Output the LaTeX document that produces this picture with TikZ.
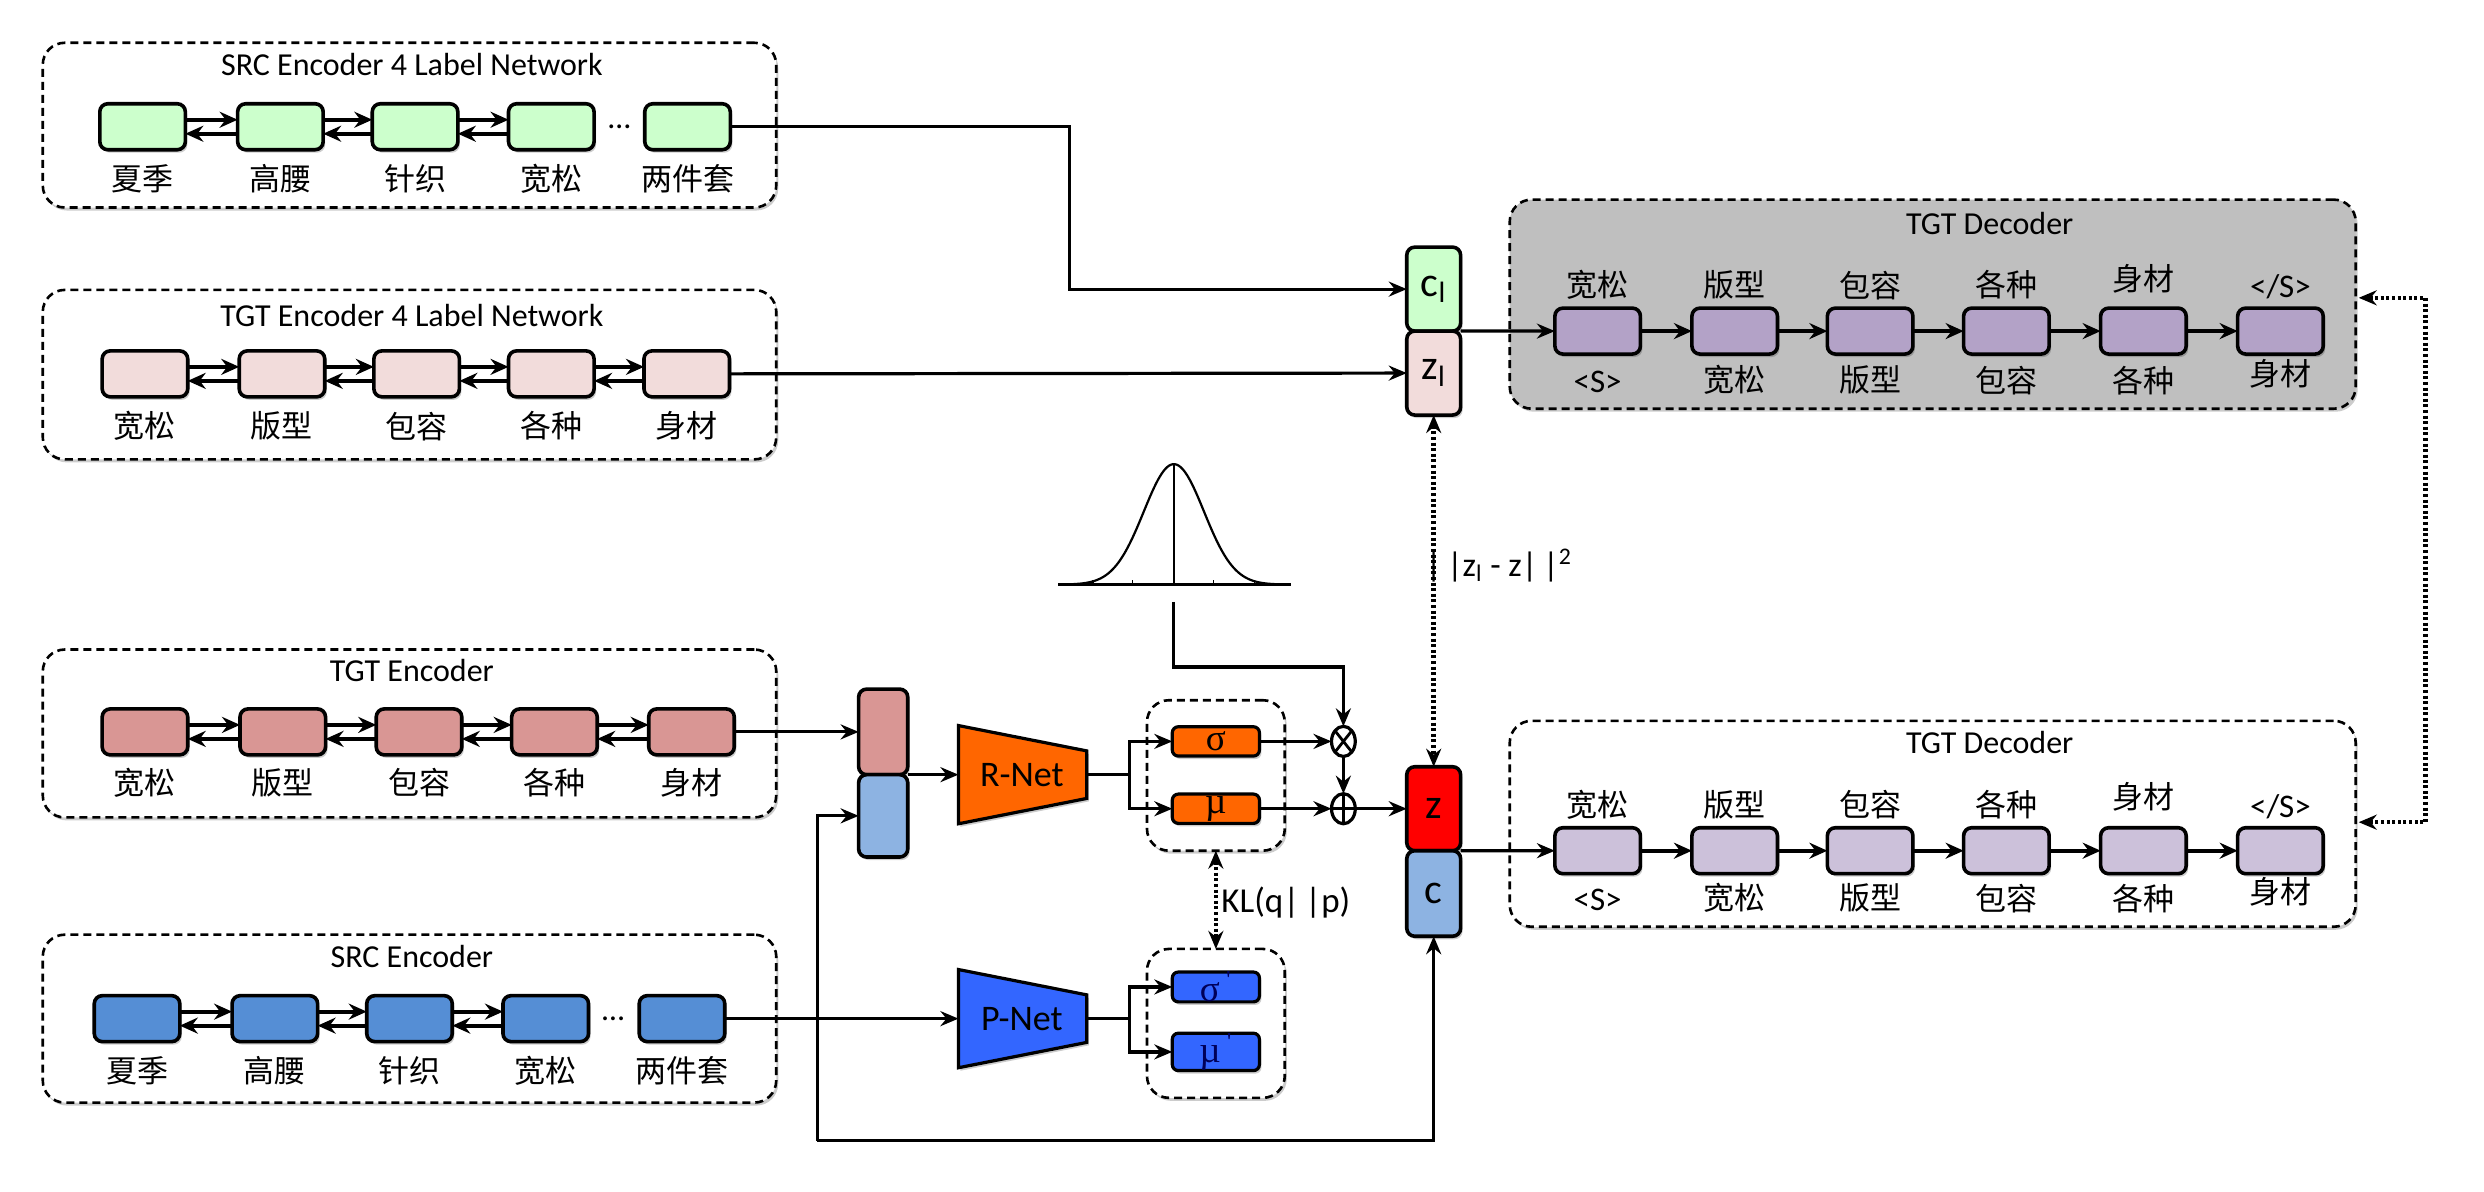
\documentclass[tikz,border=0pt]{standalone}
\usepackage{fontspec}
\setmainfont{Carlito}
\newfontfamily\cjk{Noto Sans CJK SC}
\newfontfamily\grk{Liberation Serif}
\usetikzlibrary{arrows.meta,shapes.geometric,shadows,calc}
\newcommand\pxu{0.7921pt}
\newcommand\eosS{</S>}
\definecolor{cgreen}{HTML}{CCFFCC}
\definecolor{cpink}{HTML}{F2DCDB}
\definecolor{cred}{HTML}{D99694}
\definecolor{cblue}{HTML}{558ED5}
\definecolor{clblue}{HTML}{8DB3E2}
\definecolor{cpurple}{HTML}{B3A2C7}
\definecolor{clpurple}{HTML}{CCC1DA}
\definecolor{corange}{HTML}{FF6600}
\definecolor{cpblue}{HTML}{3366FF}
\definecolor{cgray}{HTML}{BFBFBF}
\definecolor{zred}{HTML}{FF0000}
\tikzset{
  every node/.style={inner sep=0pt, outer sep=0pt},
  shad/.style={drop shadow={shadow xshift=1pt, shadow yshift=-1.5pt, opacity=0.2, fill=black}},
  cell/.style={draw, line width=1.8pt, rounded corners=4pt, minimum width=54*\pxu, minimum height=29*\pxu, shad},
  tall/.style={draw, line width=1.8pt, rounded corners=4pt, minimum width=34*\pxu, minimum height=53*\pxu, shad, font=\fontsize{21}{22}\selectfont},
  smallbox/.style={draw, line width=1.6pt, rounded corners=3pt, minimum width=55*\pxu, minimum height=18.5*\pxu, shad, font=\grk\fontsize{18.5}{19}\selectfont},
  group/.style={draw, line width=1.3pt, dash pattern=on 4pt off 2.5pt, rounded corners=11pt, fill=white, shad},
  title/.style={font=\fontsize{16}{17}\selectfont},
  lab/.style={font=\cjk\fontsize{15.5}{16}\selectfont},
  declab/.style={font=\fontsize{16.5}{17}\selectfont},
  arr/.style={-{Stealth[length=9pt,width=7.5pt,inset=3pt]}, line width=1.6pt},
  charr/.style={-{Stealth[length=9pt,width=8pt,inset=3pt]}, line width=2pt},
  dotarr/.style={{Stealth[length=9pt,width=7.5pt,inset=3pt]}-{Stealth[length=9pt,width=7.5pt,inset=3pt]}, line width=2.3pt, dash pattern=on 1.5pt off 1.3pt},
  opnode/.style={ellipse, draw, line width=1.6pt, minimum width=15*\pxu, minimum height=19*\pxu, fill=white},
  netlab/.style={font=\fontsize{18}{19}\selectfont}
}
\begin{document}
\begin{tikzpicture}[x=\pxu, y=-\pxu]
\useasboundingbox (0,0) rectangle (1568,752);

% ---------- group boxes ----------
\node[group, minimum width=463*\pxu, minimum height=104*\pxu] (gA) at (258.5,79) {};
\node[group, minimum width=463*\pxu, minimum height=107*\pxu] (gB) at (258.5,236.5) {};
\node[group, minimum width=463*\pxu, minimum height=106*\pxu] (gE) at (258.5,463) {};
\node[group, minimum width=463*\pxu, minimum height=106*\pxu] (gS) at (258.5,643) {};
\node[group, fill=cgray, minimum width=534*\pxu, minimum height=132*\pxu] (gTD) at (1220,192) {};
\node[group, minimum width=534*\pxu, minimum height=130*\pxu] (gBD) at (1220,520) {};
\node[group, minimum width=87*\pxu, minimum height=95*\pxu] (gR) at (767.5,489.5) {};
\node[group, minimum width=87*\pxu, minimum height=94*\pxu] (gP) at (767.5,646) {};

% ---------- titles ----------
\node[title] (tA) at (260,41) {SRC Encoder 4 Label Network};
\node[title] (tB) at (260,199) {TGT Encoder 4 Label Network};
\node[title] (tE) at (260,423) {TGT Encoder};
\node[title] (tS) at (260,604) {SRC Encoder};
\node[title] (tTD) at (1256,141) {TGT Decoder};
\node[title] (tBD) at (1256,469) {TGT Decoder};

% ---------- SRC encoder 4 label ----------
\foreach \i/\x/\t in {1/90/夏季,2/177/高腰,3/262/针织,4/348/宽松,5/434/两件套}{
  \node[cell, fill=cgreen] (a\i) at (\x,80) {};
  \node[lab] (la\i) at (\x,113) {\t};
}
\node[title] (dotsA) at (391,80) {…};
\foreach \i/\j in {1/2,2/3,3/4}{
  \draw[charr] ([yshift=3.5pt]a\i.east) -- ([yshift=3.5pt]a\j.west);
  \draw[charr] ([yshift=-3.5pt]a\j.west) -- ([yshift=-3.5pt]a\i.east);
}

% ---------- TGT encoder 4 label ----------
\foreach \i/\x/\t in {1/91.5/宽松,2/178/版型,3/263/包容,4/348/各种,5/433.5/身材}{
  \node[cell, fill=cpink] (b\i) at (\x,236) {};
  \node[lab] (lb\i) at (\x,269) {\t};
}
\foreach \i/\j in {1/2,2/3,3/4,4/5}{
  \draw[charr] ([yshift=3.5pt]b\i.east) -- ([yshift=3.5pt]b\j.west);
  \draw[charr] ([yshift=-3.5pt]b\j.west) -- ([yshift=-3.5pt]b\i.east);
}

% ---------- TGT encoder ----------
\foreach \i/\x/\t in {1/91.5/宽松,2/178.5/版型,3/264.5/包容,4/350/各种,5/436.5/身材}{
  \node[cell, fill=cred] (e\i) at (\x,462) {};
  \node[lab] (le\i) at (\x,494) {\t};
}
\foreach \i/\j in {1/2,2/3,3/4,4/5}{
  \draw[charr] ([yshift=3.5pt]e\i.east) -- ([yshift=3.5pt]e\j.west);
  \draw[charr] ([yshift=-3.5pt]e\j.west) -- ([yshift=-3.5pt]e\i.east);
}

% ---------- SRC encoder ----------
\foreach \i/\x/\t in {1/86.5/夏季,2/173.5/高腰,3/258.5/针织,4/344.5/宽松,5/430.5/两件套}{
  \node[cell, fill=cblue] (s\i) at (\x,643) {};
  \node[lab] (ls\i) at (\x,676) {\t};
}
\node[title] (dotsS) at (387,643) {…};
\foreach \i/\j in {1/2,2/3,3/4}{
  \draw[charr] ([yshift=3.5pt]s\i.east) -- ([yshift=3.5pt]s\j.west);
  \draw[charr] ([yshift=-3.5pt]s\j.west) -- ([yshift=-3.5pt]s\i.east);
}

% ---------- decoders ----------
\foreach \i/\x/\tp in {1/1008.5/宽松,2/1095/版型,3/1180.5/包容,4/1266.5/各种}{
  \node[cell, fill=cpurple] (d\i) at (\x,209) {};
  \node[lab] (dt\i) at (\x,180) {\tp};
  \node[cell, fill=clpurple] (f\i) at (\x,537) {};
  \node[lab] (ft\i) at (\x,508) {\tp};
}
\node[declab] (db1) at (1008.5,241) {<S>};
\node[declab] (fb1) at (1008.5,568) {<S>};
\foreach \i/\x/\bt in {2/1095/宽松,3/1180.5/版型,4/1266.5/包容}{
  \node[lab] (db\i) at (\x,240) {\bt};
  \node[lab] (fb\i) at (\x,567) {\bt};
}
\node[cell, fill=cpurple] (d5) at (1353,209) {};
\node[lab] (dt5) at (1353,176) {身材};
\node[lab] (db5) at (1353,240) {各种};
\node[cell, fill=cpurple] (d6) at (1439.5,209) {};
\node[declab] (dt6) at (1439.5,181) {\eosS};
\node[lab] (db6) at (1439.5,236) {身材};
\node[cell, fill=clpurple] (f5) at (1353,537) {};
\node[lab] (ft5) at (1353,503) {身材};
\node[lab] (fb5) at (1353,567) {各种};
\node[cell, fill=clpurple] (f6) at (1439.5,537) {};
\node[declab] (ft6) at (1439.5,509) {\eosS};
\node[lab] (fb6) at (1439.5,563) {身材};
\foreach \i/\j in {1/2,2/3,3/4,4/5,5/6}{
  \draw[charr] (d\i.east) -- (d\j.west);
  \draw[charr] (f\i.east) -- (f\j.west);
}

% ---------- latent label boxes ----------
\node[tall, fill=cgreen] (cl) at (905,182.5) {c\textsubscript{l}};
\node[tall, fill=cpink] (zl) at (905,235.5) {z\textsubscript{l}};
\node[tall, fill=zred] (z) at (905,510.5) {z};
\node[tall, fill=clblue, minimum height=54*\pxu] (c) at (905,564) {c};
\node[tall, fill=cred, minimum width=31*\pxu, minimum height=54*\pxu] (cc1) at (557.5,462) {};
\node[tall, fill=clblue, minimum width=31*\pxu, minimum height=52*\pxu] (cc2) at (557.5,515) {};

% ---------- R-Net / P-Net ----------
\draw[line width=1.6pt, fill=corange, shad] (605,458) -- (686,474) -- (686,504) -- (605,520) -- cycle;
\node[netlab] (rnet) at (645,489) {R-Net};
\coordinate (rnetW) at (605,489);
\coordinate (rnetE) at (686,489);
\coordinate (rbr) at (713,489);
\draw[line width=1.6pt, fill=cpblue, shad] (605,612) -- (686,628) -- (686,658) -- (605,674) -- cycle;
\node[netlab] (pnet) at (645,643) {P-Net};
\coordinate (pnetW) at (605,643);
\coordinate (pnetE) at (686,643);
\coordinate (pbr) at (713,643);

\node[smallbox, fill=corange] (sig) at (767.5,468) {σ};
\node[smallbox, fill=corange] (mu) at (767.5,510.5) {µ};
\node[smallbox, fill=cpblue, text=blue!35!black] (sigp) at (767.5,623) {σ\,\textsuperscript{'}};
\node[smallbox, fill=cpblue, text=blue!35!black] (mup) at (767.5,664) {µ\,\textsuperscript{'}};

\node[opnode, path picture={\draw[line width=1.4pt] (path picture bounding box.north west) -- (path picture bounding box.south east) (path picture bounding box.north east) -- (path picture bounding box.south west);}] (otimes) at (848,468) {};
\node[opnode, path picture={\draw[line width=1.4pt] (path picture bounding box.north) -- (path picture bounding box.south) (path picture bounding box.west) -- (path picture bounding box.east);}] (oplus) at (848,510.5) {};

% ---------- Gaussian ----------
\draw[line width=1.1pt] plot[domain=670:812, samples=120, smooth] (\x,{369-76*exp(-((\x-741)/19)^2/2)});
\draw[line width=1.6pt] (668,369) -- (815,369);
\draw[line width=0.9pt] (741,293) -- (741,369);
\foreach \t in {690,715,766,792}{\draw[line width=0.7pt] (\t,369) -- (\t,366);}
\coordinate (gstem) at (741,380);
\coordinate (gbend) at (741,421);

% ---------- connectors ----------
\coordinate (bendA) at (675,80);
\draw[arr] (a5.east) -- (bendA) |- (cl.west);
\draw[arr] (b5.east) -- (zl.west);
\draw[arr] (cl.south east) -- (d1.west);
\draw[arr] (e5.east) -- (cc1.west);
\draw[arr] (s5.east) -- (pnetW);
\coordinate (jB) at (516,720);
\draw[arr] (jB) |- (cc2.west);
\draw[arr] (jB) -| (c.south);
\draw[arr] (cc1.south east) -- (rnetW);
\draw[line width=1.6pt] (rnetE) -- (rbr);
\draw[arr] (rbr) |- (sig.west);
\draw[arr] (rbr) |- (mu.west);
\draw[line width=1.6pt] (pnetE) -- (pbr);
\draw[arr] (pbr) |- (sigp.west);
\draw[arr] (pbr) |- (mup.west);
\draw[arr] (sig.east) -- (otimes.west);
\draw[arr] (mu.east) -- (oplus.west);
\draw[arr] (otimes.south) -- (oplus.north);
\draw[arr] (oplus.east) -- (z.west);
\draw[arr] (gstem) -- (gbend) -| (otimes.north);
\draw[arr] (z.south east) -- (f1.west);

\draw[dotarr] (zl.south) -- (z.north);
\node[title, anchor=west, font=\fontsize{17}{18}\selectfont] (l2) at (900,357) {|\,|z\textsubscript{l} - z|\,|\textsuperscript{2}};
\draw[dotarr] (gR.south) -- (gP.north);
\node[title, anchor=west, font=\fontsize{17.5}{18}\selectfont] (kl) at (771,570) {KL(q|\,|p)};

\coordinate (q1) at (1531,188);
\coordinate (q2) at (1531,519);
\draw[dotarr] ([xshift=1.5pt]gTD.east |- q1) -- (q1) -- (q2) -- ([xshift=1.5pt]gBD.east |- q2);
\end{tikzpicture}
\end{document}
